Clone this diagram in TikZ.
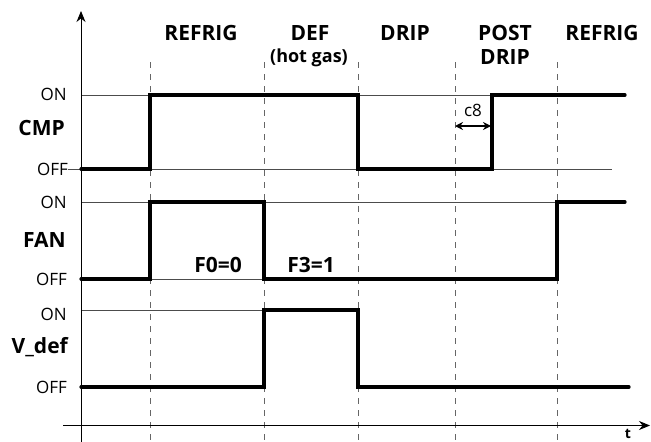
\documentclass[tikz,border=0pt]{standalone}
\usepackage{fontspec}
\setmainfont{Open Sans}
\usetikzlibrary{arrows.meta}
\begin{document}
\begin{tikzpicture}[x=1pt,y=-1pt,
  thinln/.style={draw=black!70, line width=0.9pt},
  sig/.style={draw=black, line width=3.2pt, line cap=round, line join=miter},
  phasesep/.style={draw=black!60, line width=1pt, dash pattern=on 6pt off 6pt},
  axis/.style={draw=black, line width=0.9pt, -{Stealth[length=11pt,width=9pt]}},
  phase/.style={font=\fontsize{21}{23}\selectfont\bfseries, inner sep=0pt},
  small/.style={font=\fontsize{18}{20}\selectfont\bfseries, inner sep=0pt},
  lvl/.style={font=\fontsize{17}{19}\selectfont, inner sep=0pt, anchor=east},
  signame/.style={font=\fontsize{21}{23}\selectfont\bfseries, inner sep=0pt, anchor=east}
]
\useasboundingbox (0,0) rectangle (651,442);

% dashed phase boundaries
\foreach \x/\n in {150/a,264/b,358/c,455/d,557/e} {
  \coordinate (top\n) at (\x,62);
  \coordinate (bot\n) at (\x,442);
  \draw[phasesep] (top\n) -- (bot\n);
}

% thin reference lines
\coordinate (cmpOnL) at (81,95);   \coordinate (cmpOnR) at (625,95);
\coordinate (cmpOffL) at (68,169); \coordinate (cmpOffR) at (612,169);
\coordinate (fanOnL) at (81,202);  \coordinate (fanOnR) at (625,202);
\coordinate (fanOffL) at (81,279); \coordinate (fanOffR) at (557,279);
\coordinate (vOnL) at (81,310);    \coordinate (vOnR) at (264,310);
\draw[thinln] (cmpOnL) -- (cmpOnR);
\draw[thinln] (cmpOffL) -- (cmpOffR);
\draw[thinln] (fanOnL) -- (fanOnR);
\draw[thinln] (fanOffL) -- (fanOffR);
\draw[thinln] (vOnL) -- (vOnR);

% axes
\coordinate (yb) at (81,442); \coordinate (yt) at (81,11);
\coordinate (xl) at (63,425.5); \coordinate (xr) at (650,425.5);
\draw[axis] (yb) -- (yt);
\draw[axis] (xl) -- (xr);
\node[font=\fontsize{14}{16}\selectfont\bfseries, inner sep=0pt, anchor=south] (t) at (628,438.5) {t};

% signals
\draw[sig] (81,169) -- (150,169) -- (150,95) -- (358,95) -- (358,169) -- (492,169) -- (492,95) -- (625,95);
\draw[sig] (81,279) -- (150,279) -- (150,202) -- (264,202) -- (264,279) -- (557,279) -- (557,202) -- (625,202);
\draw[sig] (81,387) -- (264,387) -- (264,310) -- (358,310) -- (358,387) -- (629,387);

% c8 dimension
\coordinate (c8l) at (455,126); \coordinate (c8r) at (491,126);
\draw[line width=1.2pt, {Stealth[length=8pt,width=8pt]}-{Stealth[length=8pt,width=8pt]}] (c8l) -- (c8r);
\node[font=\fontsize{17}{19}\selectfont, inner sep=0pt] (c8) at (473,110) {c8};

% phase labels
\node[phase] (p1) at (201,33) {REFRIG};
\node[phase] (p2) at (310,33) {DEF};
\node[small] (p2b) at (309,58) {(hot gas)};
\node[phase] (p3) at (405,33) {DRIP};
\node[phase] (p4) at (505,33) {POST};
\node[phase] (p4b) at (505,57) {DRIP};
\node[phase] (p5) at (602,33) {REFRIG};

% signal names and levels
\node[lvl] (on1) at (67,94) {ON};
\node[signame] (cmp) at (65,128) {CMP};
\node[lvl] (off1) at (68,169) {OFF};
\node[lvl] (on2) at (67,202) {ON};
\node[signame] (fan) at (66,240) {FAN};
\node[lvl] (off2) at (67,279) {OFF};
\node[lvl] (on3) at (67,314) {ON};
\node[signame] (vdef) at (68,347) {V\_def};
\node[lvl] (off3) at (67,387) {OFF};

% parameter labels
\node[phase] (f0) at (218,265) {F0=0};
\node[phase] (f3) at (311,265) {F3=1};
\end{tikzpicture}
\end{document}
